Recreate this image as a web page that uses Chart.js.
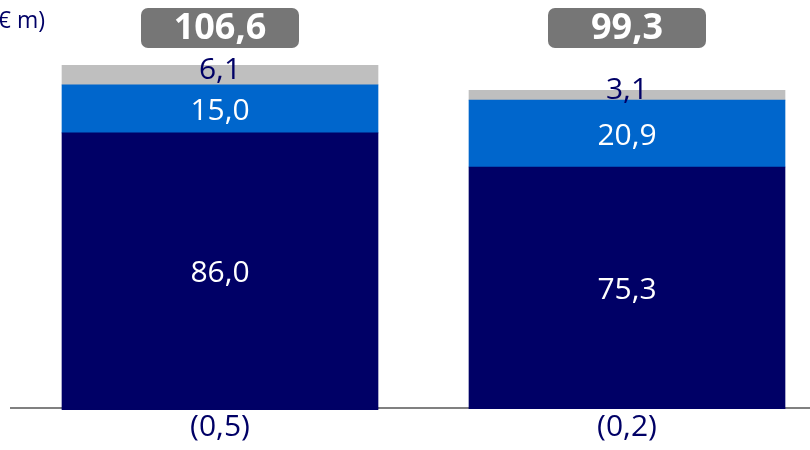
<!DOCTYPE html>
<html>
<head>
<meta charset="utf-8">
<script src="https://cdn.jsdelivr.net/npm/chart.js@4.4.0/dist/chart.umd.min.js"></script>
<style>
  html, body { margin: 0; padding: 0; background: #ffffff; }
  #wrap { position: relative; width: 810px; height: 450px; }
  #unit { position: absolute; left: -9px; top: 3px; font: 23px "Open Sans", sans-serif; color: #000066; }
</style>
</head>
<body>
<div id="wrap">
  <canvas id="chart" width="810" height="450"></canvas>
  <div id="unit">(€ m)</div>
</div>
<script>
// Datos del gráfico (valores en € m)
const periods = [0, 1];
const mainValues = [86.0, 75.3];
const secondValues = [15.0, 20.9];
const thirdValues = [6.1, 3.1];
const adjustValues = [-0.5, -0.2];
const totals = [106.6, 99.3];

const NAVY = '#000066';
const BLUE = '#0066CC';
const GREY = '#BFBFBF';
const BOX = '#767676';
const FONT = '"Open Sans", sans-serif';

function fmt(v) {
    const s = Math.abs(v).toFixed(1).replace('.', ',');
    return v < 0 ? '(' + s + ')' : s;
}

function toPoints(values) {
    return values.map((v, i) => ({ x: periods[i], y: v }));
}

// Línea base y etiquetas
const labelsPlugin = {
    id: 'labels',
    beforeDatasetsDraw(chart) {
        const ctx = chart.ctx;
        const y0 = chart.scales.y.getPixelForValue(0);
        ctx.save();
        ctx.fillStyle = '#808080';
        ctx.fillRect(10, y0 - 1, 800, 2);
        ctx.restore();
    },
    afterDatasetsDraw(chart) {
        const ctx = chart.ctx;
        ctx.save();
        ctx.textAlign = 'center';
        ctx.textBaseline = 'middle';

        chart.data.datasets.forEach((ds, di) => {
            const meta = chart.getDatasetMeta(di);
            meta.data.forEach((bar, i) => {
                const v = ds.data[i].y;
                const mid = (bar.y + bar.base) / 2;
                ctx.font = '30px ' + FONT;
                if (di === 3) {
                    ctx.fillStyle = NAVY;
                    ctx.fillText(fmt(v), bar.x, bar.base + 19);
                } else if (di === 2) {
                    ctx.fillStyle = NAVY;
                    ctx.fillText(fmt(v), bar.x, mid - 5);
                } else {
                    ctx.fillStyle = '#ffffff';
                    ctx.fillText(fmt(v), bar.x, mid + 3);
                }
            });
        });

        // Cajas de totales
        const xs = chart.scales.x;
        totals.forEach((t, i) => {
            const cx = xs.getPixelForValue(periods[i]);
            const w = 158, h = 40, top = 8;
            ctx.fillStyle = BOX;
            ctx.beginPath();
            ctx.roundRect(cx - w / 2, top, w, h, 7);
            ctx.fill();
            ctx.fillStyle = '#ffffff';
            ctx.font = 'bold 36px ' + FONT;
            ctx.fillText(fmt(t), cx, top + h / 2 + 1);
        });
        ctx.restore();
    }
};

new Chart(document.getElementById('chart').getContext('2d'), {
    type: 'bar',
    data: {
        datasets: [
            { data: toPoints(mainValues), backgroundColor: NAVY },
            { data: toPoints(secondValues), backgroundColor: BLUE },
            { data: toPoints(thirdValues), backgroundColor: GREY },
            { data: toPoints(adjustValues), backgroundColor: NAVY }
        ]
    },
    options: {
        responsive: false,
        animation: false,
        events: [],
        layout: { padding: 0 },
        datasets: { bar: { barThickness: 316, borderWidth: 0 } },
        plugins: { legend: { display: false }, tooltip: { enabled: false } },
        scales: {
            x: {
                type: 'linear',
                stacked: true,
                display: false,
                min: -220 / 407,
                max: -220 / 407 + 810 / 407,
                offset: false
            },
            y: {
                stacked: true,
                display: false,
                min: -42 / 3.2,
                max: 408 / 3.2
            }
        }
    },
    plugins: [labelsPlugin]
});
</script>
</body>
</html>
